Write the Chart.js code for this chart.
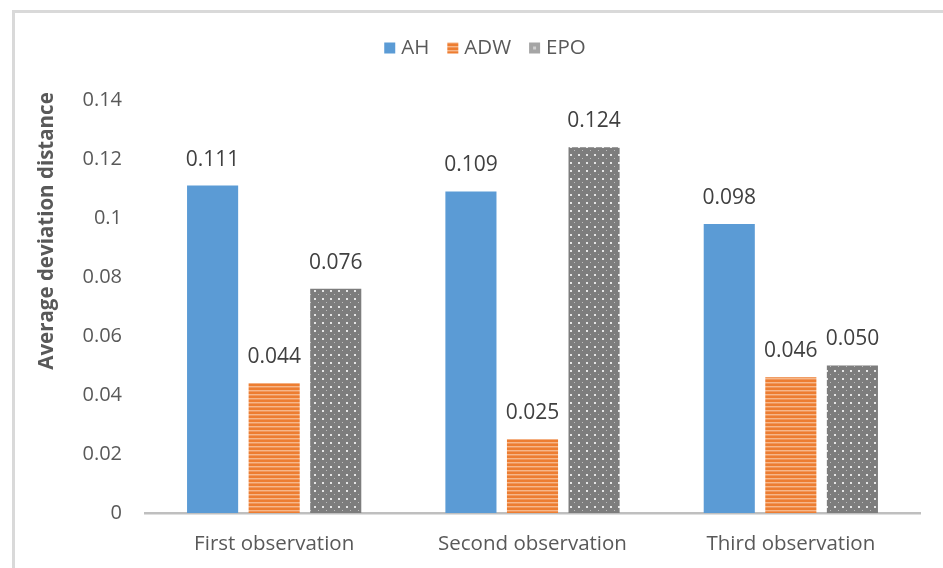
<!DOCTYPE html>
<html>
<head>
<meta charset="utf-8">
<script src="https://cdn.jsdelivr.net/npm/chart.js@4.4.1/dist/chart.umd.min.js"></script>
<style>
  html, body { margin: 0; padding: 0; background: #ffffff; }
  #wrap { position: relative; width: 943px; height: 568px; }
</style>
</head>
<body>
<div id="wrap"><canvas id="chart" width="943" height="568"></canvas></div>
<script>
// Categories and series
const categories = ['First observation', 'Second observation', 'Third observation'];
const seriesNames = ['AH', 'ADW', 'EPO'];
const ahValues  = [0.111, 0.109, 0.098];
const adwValues = [0.044, 0.025, 0.046];
const epoValues = [0.076, 0.124, 0.050];
const yTicks = [0, 0.02, 0.04, 0.06, 0.08, 0.1, 0.12, 0.14];

const FONT = '"Open Sans", sans-serif';

// Horizontal orange stripes
function stripePattern() {
  const c = document.createElement('canvas');
  c.width = 4; c.height = 4;
  const g = c.getContext('2d');
  g.fillStyle = '#ED7D31'; g.fillRect(0, 0, 4, 4);
  g.fillStyle = '#F6B78A'; g.fillRect(0, 2, 4, 1);
  g.fillStyle = '#F19659'; g.fillRect(0, 3, 4, 1);
  return g.createPattern(c, 'repeat');
}
// Grey fill with small white dots
function dotPattern() {
  const c = document.createElement('canvas');
  c.width = 8; c.height = 8;
  const g = c.getContext('2d');
  g.fillStyle = '#7D7D7D'; g.fillRect(0, 0, 8, 8);
  g.fillStyle = '#E6E6E6';
  g.fillRect(2, 2, 2, 2);
  g.fillStyle = '#BEBEBE';
  g.fillRect(6, 6, 1, 1);
  return g.createPattern(c, 'repeat');
}

const fills = ['#5B9BD5', stripePattern(), dotPattern()];
const legendSwatch = ['#5B9BD5', '#ED7D31', '#A5A5A5'];

// Outer frame lines, legend, value labels and axis title
const decorations = {
  id: 'decorations',
  beforeDraw(chart) {
    const ctx = chart.ctx;
    ctx.save();
    ctx.fillStyle = '#D9D9D9';
    ctx.fillRect(12, 10, 943 - 12, 3);
    ctx.fillRect(12, 10, 3, 568 - 10);
    ctx.restore();
  },
  afterDatasetsDraw(chart) {
    const ctx = chart.ctx;
    ctx.save();
    // value labels
    ctx.font = '21px ' + FONT;
    ctx.fillStyle = '#404040';
    ctx.textAlign = 'center';
    ctx.textBaseline = 'middle';
    chart.data.datasets.forEach((ds, di) => {
      chart.getDatasetMeta(di).data.forEach((bar, i) => {
        ctx.fillText(ds.data[i].toFixed(3), bar.x, bar.y - 26);
      });
    });
    // legend
    ctx.font = '20.5px ' + FONT;
    ctx.textBaseline = 'middle';
    ctx.textAlign = 'left';
    const box = 11, gap = 6, itemGap = 18;
    const widths = seriesNames.map(n => box + gap + ctx.measureText(n).width);
    const total = widths.reduce((a, b) => a + b, 0) + itemGap * (seriesNames.length - 1);
    let x = 485 - total / 2;
    const y = 48;
    seriesNames.forEach((n, i) => {
      if (i === 1) {
        ctx.fillStyle = fills[1];
        ctx.fillRect(x, y - box / 2, box, box);
      } else {
        ctx.fillStyle = legendSwatch[i];
        ctx.fillRect(x, y - box / 2, box, box);
        if (i === 2) { ctx.fillStyle = '#D0D0D0'; ctx.fillRect(x + 4, y - 1.5, 3, 3); }
      }
      ctx.fillStyle = '#595959';
      ctx.fillText(n, x + box + gap, y);
      x += widths[i] + itemGap;
    });
    // y axis title
    ctx.translate(47, 231);
    ctx.rotate(-Math.PI / 2);
    ctx.font = 'bold 20.5px ' + FONT;
    ctx.fillStyle = '#595959';
    ctx.textAlign = 'center';
    ctx.textBaseline = 'middle';
    ctx.fillText('Average deviation distance', 0, 0);
    ctx.restore();
  }
};

new Chart(document.getElementById('chart'), {
  type: 'bar',
  data: {
    labels: categories,
    datasets: [
      { label: seriesNames[0], data: ahValues,  backgroundColor: fills[0] },
      { label: seriesNames[1], data: adwValues, backgroundColor: fills[1] },
      { label: seriesNames[2], data: epoValues, backgroundColor: fills[2] }
    ]
  },
  options: {
    responsive: false,
    animation: false,
    layout: { padding: { top: 100, right: 23, left: 0, bottom: 0 } },
    datasets: { bar: { categoryPercentage: 0.715, barPercentage: 0.83 } },
    plugins: { legend: { display: false }, tooltip: { enabled: false } },
    scales: {
      x: {
        grid: { display: false, drawTicks: false },
        border: { color: '#BFBFBF', width: 2.5 },
        ticks: { color: '#595959', font: { size: 20.5, family: FONT }, padding: 19 },
        afterFit(s) { s.height = 55; }
      },
      y: {
        min: 0, max: 0.14,
        grid: { display: false, drawTicks: false },
        border: { display: false },
        afterBuildTicks(s) { s.ticks = yTicks.map(v => ({ value: v })); },
        ticks: {
          color: '#595959', font: { size: 20, family: FONT }, padding: 23,
          callback: v => String(+v.toFixed(2))
        },
        afterFit(s) { s.width = 145; }
      }
    }
  },
  plugins: [decorations]
});
</script>
</body>
</html>
